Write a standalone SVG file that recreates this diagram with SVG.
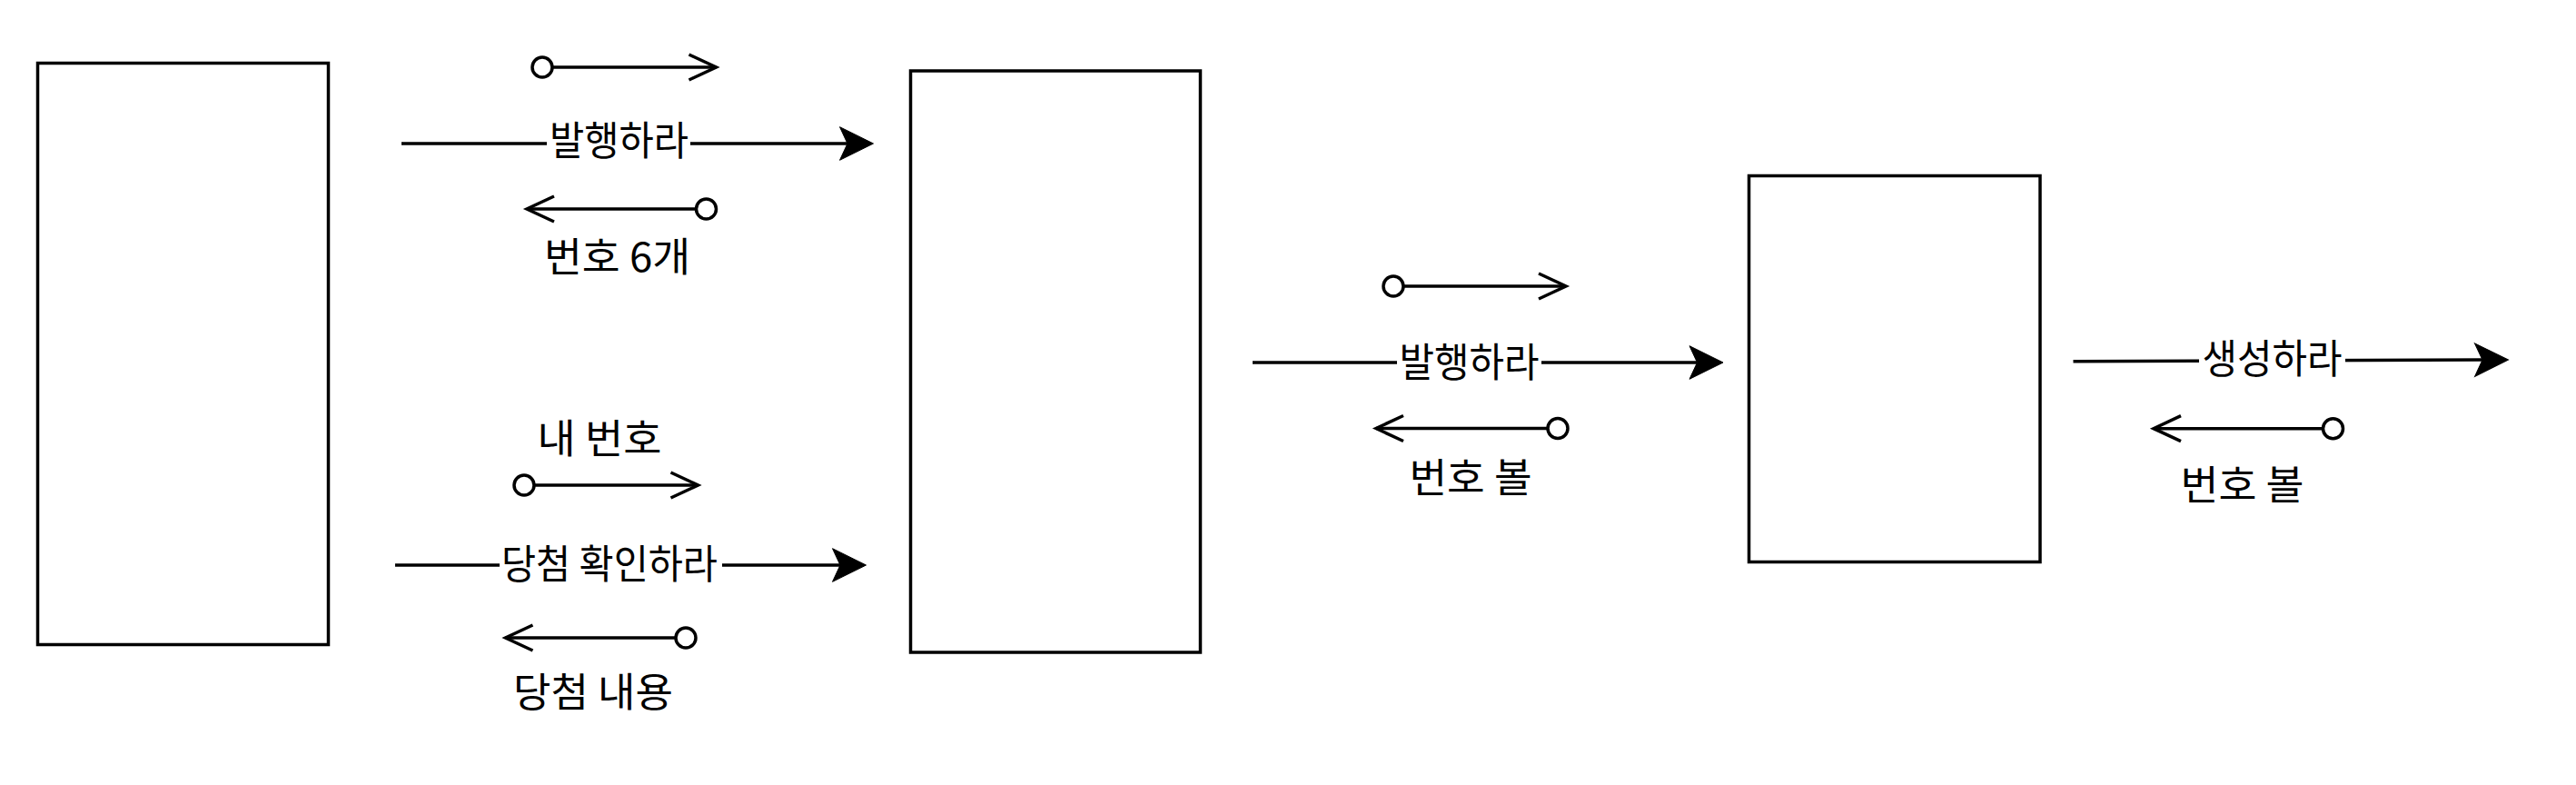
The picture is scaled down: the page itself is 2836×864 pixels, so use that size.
<svg xmlns="http://www.w3.org/2000/svg" width="2836" height="864" viewBox="0 0 2836 864">
  <style>
    .box { fill: #ffffff; stroke: #000000; stroke-width: 3.5; }
    .ln { fill: none; stroke: #000000; stroke-width: 3.5; }
    .dot { fill: #ffffff; stroke: #000000; stroke-width: 3.5; }
    .lblbg { fill: #ffffff; stroke: none; }
    .lbl { font-family: "Noto Sans CJK KR", "Noto Sans", sans-serif; font-size: 44px; fill: #000000; text-anchor: middle; dominant-baseline: central; }
  </style>
  <defs>
    <marker id="block" markerUnits="userSpaceOnUse" markerWidth="60" markerHeight="60" refX="0" refY="0" orient="auto" overflow="visible" viewBox="-30 -30 60 60">
      <path d="M-8.5,-18.3 L28.5,0 L-8.5,18.3 L0,0 Z" fill="#000000" stroke="#000000" stroke-width="1" stroke-linejoin="miter"/>
    </marker>
    <marker id="open" markerUnits="userSpaceOnUse" markerWidth="60" markerHeight="60" refX="0" refY="0" orient="auto" overflow="visible" viewBox="-40 -30 60 60">
      <path d="M-30,-14 L0,0 L-30,14" fill="none" stroke="#000000" stroke-width="3.5" stroke-linejoin="miter"/>
    </marker>
  </defs>

  <rect width="2836" height="864" fill="#ffffff"/>

  <g id="node-client">
    <rect class="box" x="41.5" y="69.5" width="320" height="640"/>
  </g>
  <g id="node-service">
    <rect class="box" x="1002.5" y="78" width="319" height="640"/>
  </g>
  <g id="node-generator">
    <rect class="box" x="1925.5" y="193.5" width="320.5" height="425"/>
  </g>

  <g id="connectors">
    <!-- client -> service : 발행하라 -->
    <g id="edge-issue">
      <line class="ln" x1="442" y1="158" x2="933" y2="158" marker-end="url(#block)"/>
      <rect class="lblbg" x="602" y="130" width="158" height="46"/>
      <text class="lbl" x="681.5" y="152" textLength="153" lengthAdjust="spacingAndGlyphs">발행하라</text>
    </g>
    <g id="msg-issue-call">
      <line class="ln" x1="608" y1="74" x2="788.5" y2="74" marker-end="url(#open)"/>
      <circle class="dot" cx="597" cy="74" r="11"/>
    </g>
    <g id="msg-issue-return">
      <line class="ln" x1="766.5" y1="230" x2="580" y2="230" marker-end="url(#open)"/>
      <circle class="dot" cx="777.5" cy="230" r="11"/>
      <text class="lbl" x="679.5" y="280" textLength="161" lengthAdjust="spacingAndGlyphs">번호 6개</text>
    </g>

    <!-- client -> service : 당첨 확인하라 -->
    <g id="edge-check">
      <line class="ln" x1="435" y1="622" x2="925" y2="622" marker-end="url(#block)"/>
      <rect class="lblbg" x="550" y="594" width="245" height="46"/>
      <text class="lbl" x="671" y="617.5" textLength="238" lengthAdjust="spacingAndGlyphs">당첨 확인하라</text>
    </g>
    <g id="msg-check-call">
      <text class="lbl" x="660" y="480" textLength="137" lengthAdjust="spacingAndGlyphs">내 번호</text>
      <line class="ln" x1="588" y1="534" x2="768.5" y2="534" marker-end="url(#open)"/>
      <circle class="dot" cx="577" cy="534" r="11"/>
    </g>
    <g id="msg-check-return">
      <line class="ln" x1="744" y1="702" x2="556.5" y2="702" marker-end="url(#open)"/>
      <circle class="dot" cx="755" cy="702" r="11"/>
      <text class="lbl" x="653" y="759" textLength="176" lengthAdjust="spacingAndGlyphs">당첨 내용</text>
    </g>

    <!-- service -> generator : 발행하라 -->
    <g id="edge-issue2">
      <line class="ln" x1="1379" y1="399" x2="1868.5" y2="399" marker-end="url(#block)"/>
      <rect class="lblbg" x="1538" y="372" width="159" height="46"/>
      <text class="lbl" x="1617.5" y="396" textLength="154" lengthAdjust="spacingAndGlyphs">발행하라</text>
    </g>
    <g id="msg-issue2-call">
      <line class="ln" x1="1545" y1="315" x2="1724" y2="315" marker-end="url(#open)"/>
      <circle class="dot" cx="1534" cy="315" r="11"/>
    </g>
    <g id="msg-issue2-return">
      <line class="ln" x1="1704" y1="471.5" x2="1515" y2="471.5" marker-end="url(#open)"/>
      <circle class="dot" cx="1715" cy="471.5" r="11"/>
      <text class="lbl" x="1619" y="523" textLength="135" lengthAdjust="spacingAndGlyphs">번호 볼</text>
    </g>

    <!-- generator -> external : 생성하라 -->
    <g id="edge-generate">
      <line class="ln" x1="2282.5" y1="397.7" x2="2733" y2="396.1" marker-end="url(#block)"/>
      <rect class="lblbg" x="2421" y="369" width="161" height="47"/>
      <text class="lbl" x="2501.5" y="392" textLength="154" lengthAdjust="spacingAndGlyphs">생성하라</text>
    </g>
    <g id="msg-generate-return">
      <line class="ln" x1="2557.5" y1="471.7" x2="2371" y2="471.7" marker-end="url(#open)"/>
      <circle class="dot" cx="2568.5" cy="471.7" r="11"/>
      <text class="lbl" x="2468.5" y="531" textLength="136" lengthAdjust="spacingAndGlyphs">번호 볼</text>
    </g>
  </g>
</svg>
